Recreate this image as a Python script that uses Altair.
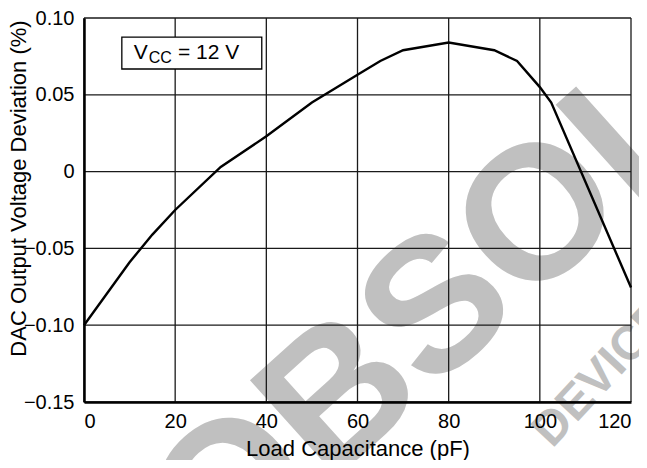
import altair as alt
import pandas as pd

# Curve
cap_pf = [0, 10, 15, 20, 30, 40, 50, 60, 65, 70, 80, 90, 95, 100, 102.5, 120]
deviation = [-0.100, -0.059, -0.041, -0.025, 0.003, 0.023, 0.045, 0.063, 0.072,
             0.079, 0.084, 0.079, 0.072, 0.055, 0.045, -0.0755]

x_ticks = [0, 20, 40, 60, 80, 100, 120]
y_ticks = [-0.15, -0.10, -0.05, 0, 0.05, 0.10]

# annotation box (data coordinates)
box_x = [8.3]
box_x2 = [39.0]
box_y = [0.0668]
box_y2 = [0.0876]
label_main = ["V", "= 12 V"]
label_main_x = [10.9, 20.6]
label_main_y = [0.0733, 0.0733]
label_sub = ["CC"]
label_sub_x = [14.2]
label_sub_y = [0.0705]

# watermark
wm_big = ["OBSOLETE"]
wm_big_x = [114.6]
wm_big_y = [-0.0415]
wm_small = ["DEVICE"]
wm_small_x = [116.1]
wm_small_y = [-0.138]

FONT = "Liberation Sans"
WM = "#c0c0c0"

xs = alt.Scale(domain=[0, 120], nice=False)
ys = alt.Scale(domain=[-0.15, 0.10], nice=False)

curve = pd.DataFrame({"x": cap_pf, "y": deviation})
gx = pd.DataFrame({"x": x_ticks})
gy = pd.DataFrame({"y": y_ticks})

wm1 = alt.Chart(pd.DataFrame({"x": wm_big_x, "y": wm_big_y, "t": wm_big})).mark_text(
    font=FONT, fontWeight="bold", fontSize=190, angle=318, color=WM,
    align="center", baseline="alphabetic"
).encode(x=alt.X("x:Q", scale=xs), y=alt.Y("y:Q", scale=ys), text="t:N")

wm2 = alt.Chart(pd.DataFrame({"x": wm_small_x, "y": wm_small_y, "t": wm_small})).mark_text(
    font=FONT, fontWeight="bold", fontSize=48, angle=313, color=WM,
    align="center", baseline="alphabetic"
).encode(x=alt.X("x:Q", scale=xs), y=alt.Y("y:Q", scale=ys), text="t:N")

vgrid = alt.Chart(gx).mark_rule(color="#1a1a1a", strokeWidth=1.3).encode(
    x=alt.X("x:Q", scale=xs))
hgrid = alt.Chart(gy).mark_rule(color="#1a1a1a", strokeWidth=1.3).encode(
    y=alt.Y("y:Q", scale=ys))

line = alt.Chart(curve).mark_line(color="black", strokeWidth=2.4).encode(
    x=alt.X("x:Q", scale=xs,
            axis=alt.Axis(values=x_ticks, title="Load Capacitance (pF)",
                          labelPadding=9, titleY=53, titleBaseline="alphabetic",
                          zindex=1)),
    y=alt.Y("y:Q", scale=ys,
            axis=alt.Axis(values=y_ticks, title="DAC Output Voltage Deviation (%)",
                          labelPadding=10,
                          labelExpr="datum.value == 0 ? '0' : replace(format(datum.value, '.2f'), '-', '\u2212')",
                          titleAngle=270, titleX=-59, titleY=170,
                          titleAlign="center", titleBaseline="alphabetic",
                          zindex=1)),
)

box = alt.Chart(pd.DataFrame({"x": box_x, "x2": box_x2, "y": box_y, "y2": box_y2})).mark_rect(
    fill="white", stroke="black", strokeWidth=1.3
).encode(x=alt.X("x:Q", scale=xs), x2="x2:Q", y=alt.Y("y:Q", scale=ys), y2="y2:Q")

t_main = alt.Chart(pd.DataFrame({"x": label_main_x, "y": label_main_y, "t": label_main})).mark_text(
    font=FONT, fontSize=21, color="black", align="left", baseline="alphabetic"
).encode(x=alt.X("x:Q", scale=xs), y=alt.Y("y:Q", scale=ys), text="t:N")

t_sub = alt.Chart(pd.DataFrame({"x": label_sub_x, "y": label_sub_y, "t": label_sub})).mark_text(
    font=FONT, fontSize=16, color="black", align="left", baseline="alphabetic"
).encode(x=alt.X("x:Q", scale=xs), y=alt.Y("y:Q", scale=ys), text="t:N")

chart = alt.layer(wm1, wm2, vgrid, hgrid, line, box, t_main, t_sub).properties(
    width=547, height=384,
    autosize=alt.AutoSizeParams(type="none"),
    padding={"left": 76, "top": 10, "right": 8, "bottom": 58},
).configure_view(stroke=None).configure_axis(
    grid=False, ticks=False, domain=True, domainColor="black", domainWidth=2.5,
    labelFont=FONT, labelFontSize=20, labelColor="black",
    titleFont=FONT, titleFontSize=22, titleFontWeight="normal", titleColor="black",
)

chart.save("out.html", embed_options={"renderer": "svg", "actions": False})
